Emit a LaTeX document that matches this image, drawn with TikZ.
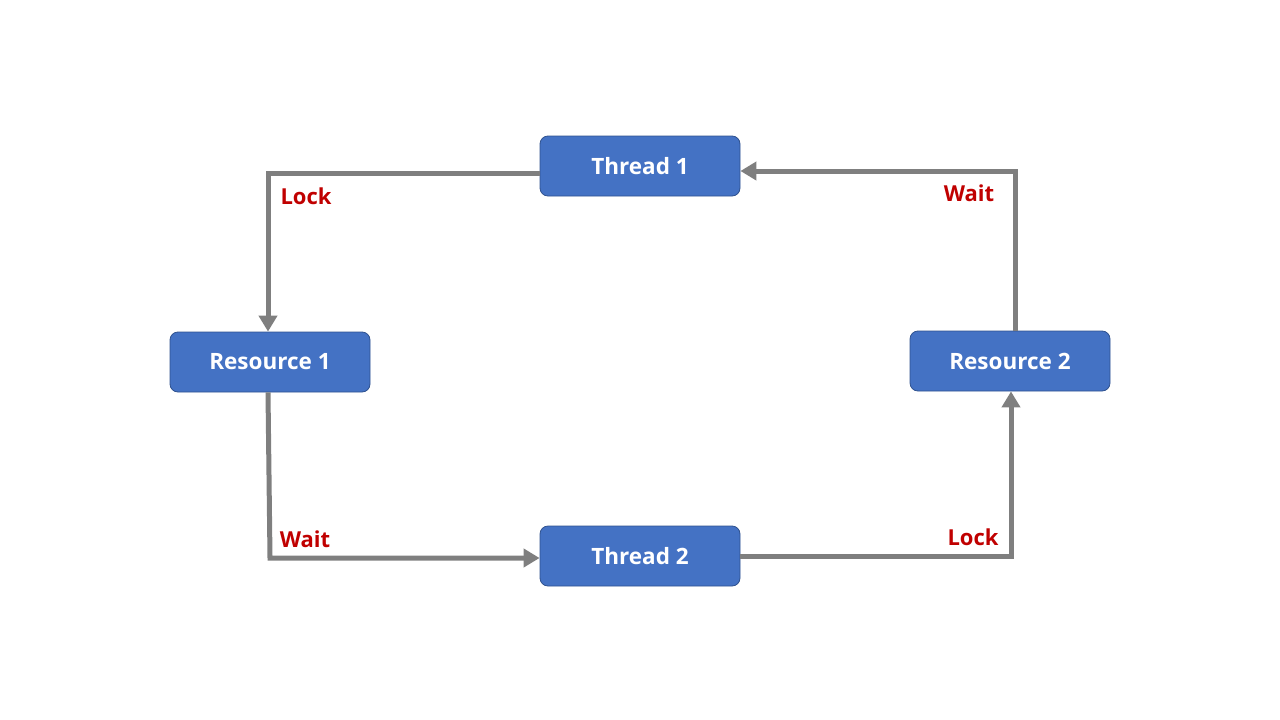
\documentclass[tikz,border=0pt]{standalone}
\usepackage{fontspec}
\setmainfont{Open Sans}
\usetikzlibrary{arrows.meta}
\definecolor{boxfill}{HTML}{4472C4}
\definecolor{boxline}{HTML}{2F528F}
\definecolor{arrowgray}{HTML}{7F7F7F}
\definecolor{lblred}{HTML}{C00000}
\tikzset{
  box/.style={draw=boxline, line width=0.8pt, fill=boxfill, rounded corners=8pt,
    minimum width=200pt, minimum height=60pt, text=white,
    font=\fontsize{22.5}{26}\selectfont\bfseries, inner sep=0pt},
  conn/.style={draw=arrowgray, line width=5pt,
    -{Triangle[length=16pt,width=18pt]}},
  lbl/.style={text=lblred, font=\fontsize{22}{26}\selectfont\bfseries, inner sep=0pt}
}
\begin{document}
\begin{tikzpicture}[x=1pt,y=-1pt]
\useasboundingbox (0,0) rectangle (1280,720);
\node[box] (t1) at (640,166) {Thread 1};
\node[box] (r1) at (270,362) {Resource 1};
\node[box] (r2) at (1010,361) {Resource 2};
\node[box] (t2) at (640,556) {Thread 2};
\coordinate (c1) at (268,173);
\coordinate (c2) at (270,558);
\coordinate (c3) at (1011,556);
\coordinate (c4) at (1015,171);
\draw[conn] (t1.west |- c1) -- (c1) -- ([xshift=-2pt]r1.north);
\draw[conn] ([xshift=-2pt]r1.south) -- (c2) -- (t2.west |- c2);
\draw[conn] (t2.east |- c3) -- (c3) -- ([xshift=1pt]r2.south);
\draw[conn] ([xshift=5pt]r2.north) -- (c4) -- (t1.east |- c4);
\node[lbl] (l1) at (306,196) {Lock};
\node[lbl] (l2) at (305,539) {Wait};
\node[lbl] (l3) at (973,537) {Lock};
\node[lbl] (l4) at (969,193) {Wait};
\end{tikzpicture}
\end{document}
